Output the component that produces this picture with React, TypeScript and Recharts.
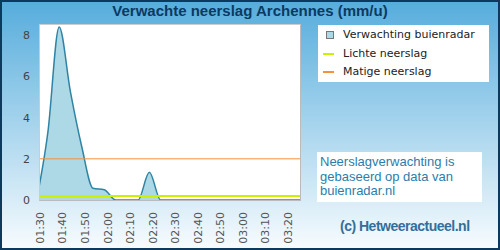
import { ComposedChart, Area, XAxis, YAxis, CartesianGrid, ReferenceLine } from "recharts";

// forecast times in minutes after midnight (5 min steps, starting just before 01:30)
const times = [88.5, 93.5, 98.5, 103.5, 108.5, 113.5, 118.5, 123.5, 128.5, 133.5, 138.5, 143.5, 148.5, 153.5, 158.5, 163.5, 168.5, 173.5, 178.5, 183.5, 188.5, 193.5, 198.5, 203.5, 208.5];
const rain = [0, 3.3, 8.4, 5.25, 2.6, 0.57, 0.5, 0, 0, 0, 1.35, 0, 0, 0, 0, 0, 0, 0, 0, 0, 0, 0, 0, 0, 0];
const tickLabels = ["01:30", "01:40", "01:50", "02:00", "02:10", "02:20", "02:30", "02:40", "02:50", "03:00", "03:10", "03:20"];
const yTicks = [0, 2, 4, 6, 8];
const lichte = 0.2;
const matige = 2;

const toMin = (s: string) => {
  const [h, m] = s.split(":").map(Number);
  return h * 60 + m;
};
const fmt = (v: number) => `${String(Math.floor(v / 60)).padStart(2, "0")}:${String(Math.round(v % 60)).padStart(2, "0")}`;

const data = times.map((t, i) => ({ t, v: rain[i] }));
const xTicks = tickLabels.map(toMin);

const RotTick = ({ x, y, payload }: any) => (
  <text x={0} y={0} dy="0.35em" textAnchor="end" transform={`translate(${x},${y + 12}) rotate(-90)`}
    fill="#555" fontSize={11} fontFamily="DejaVu Sans">
    {fmt(payload.value)}
  </text>
);

const legendRows = [
  { label: "Verwachting buienradar", kind: "box", color: "#add8e6" },
  { label: "Lichte neerslag", kind: "line", color: "#ccf000" },
  { label: "Matige neerslag", kind: "line", color: "#f7913d" },
];

export default function App() {
  return (
    <div style={{ position: "fixed", left: 0, top: 0, width: 500, height: 250, overflow: "hidden",
      background: "linear-gradient(to bottom, #55acdc 0%, #f8fcfe 100%)" }}>
      <ComposedChart width={500} height={250} data={data} margin={{ top: 25, right: 200, bottom: 0, left: 10 }}>
        <CartesianGrid horizontal={false} vertical={false} fill="#ffffff" />
        <XAxis type="number" dataKey="t" domain={[90, 205.3]} ticks={xTicks} allowDataOverflow interval={0}
          height={50} tickLine={false} axisLine={false} tickSize={0} tickMargin={0} tick={<RotTick />} />
        <YAxis domain={[0, 8.5]} ticks={yTicks} allowDataOverflow width={30} tickLine={false} axisLine={false}
          tickSize={0} tickMargin={10} tick={{ fill: "#444", fontSize: 11, fontFamily: "DejaVu Sans" }} />
        <Area type="monotone" dataKey="v" stroke="#2f84a3" strokeWidth={1.5} fill="#add8e6" fillOpacity={1}
          dot={false} activeDot={false} isAnimationActive={false} />
        <ReferenceLine y={matige} stroke="#f7913d" strokeWidth={1} />
        <ReferenceLine y={lichte} stroke="#ccf000" strokeWidth={2} />
      </ComposedChart>

      {/* plot border */}
      <div style={{ position: "absolute", left: 39, top: 24, width: 260, height: 175, border: "1px solid #cccccc",
        borderRightColor: "#bbbbbb", borderBottomColor: "#bbbbbb", pointerEvents: "none" }} />

      <div style={{ position: "absolute", left: 0, top: 3, width: 500, textAlign: "center", fontFamily: "'Liberation Sans', Arial, sans-serif",
        fontWeight: "bold", fontSize: 15, lineHeight: "15px", color: "#0b3a62" }}>
        Verwachte neerslag Archennes (mm/u)
      </div>

      <div style={{ position: "absolute", left: 318, top: 25, width: 171, height: 57, background: "#fff" }}>
        {legendRows.map((r, i) => (
          <div key={r.label} style={{ position: "absolute", left: 0, top: 1.4 + i * 18.3, height: 18.3, width: 171,
            lineHeight: "18.3px", fontFamily: "'DejaVu Sans'", fontSize: 11, color: "#222" }}>
            {r.kind === "box" ? (
              <span style={{ position: "absolute", left: 8, top: 5, width: 6, height: 6, background: r.color, border: "1px solid #777" }} />
            ) : (
              <span style={{ position: "absolute", left: 5, top: 8, width: 11, height: 2, background: r.color }} />
            )}
            <span style={{ position: "absolute", left: 25, top: 0 }}>{r.label}</span>
          </div>
        ))}
      </div>

      <div style={{ position: "absolute", left: 317, top: 152, width: 162, height: 47, padding: "3px 0 0 3px", background: "#fff",
        fontFamily: "'Liberation Sans', Arial, sans-serif", fontSize: 13, lineHeight: "14.5px", color: "#2b7dab" }}>
        Neerslagverwachting is<br />gebaseerd op data van<br />buienradar.nl
      </div>

      <div style={{ position: "absolute", left: 340, top: 218, fontFamily: "'Liberation Sans', Arial, sans-serif", fontWeight: "bold",
        fontSize: 14, lineHeight: "16px", letterSpacing: -0.5, color: "#336f9b", whiteSpace: "nowrap" }}>
        (c) Hetweeractueel.nl
      </div>

      <div style={{ position: "absolute", left: 0, top: 0, width: 500, height: 250, boxSizing: "border-box",
        border: "2px solid #0d3a5c", pointerEvents: "none" }} />
    </div>
  );
}
